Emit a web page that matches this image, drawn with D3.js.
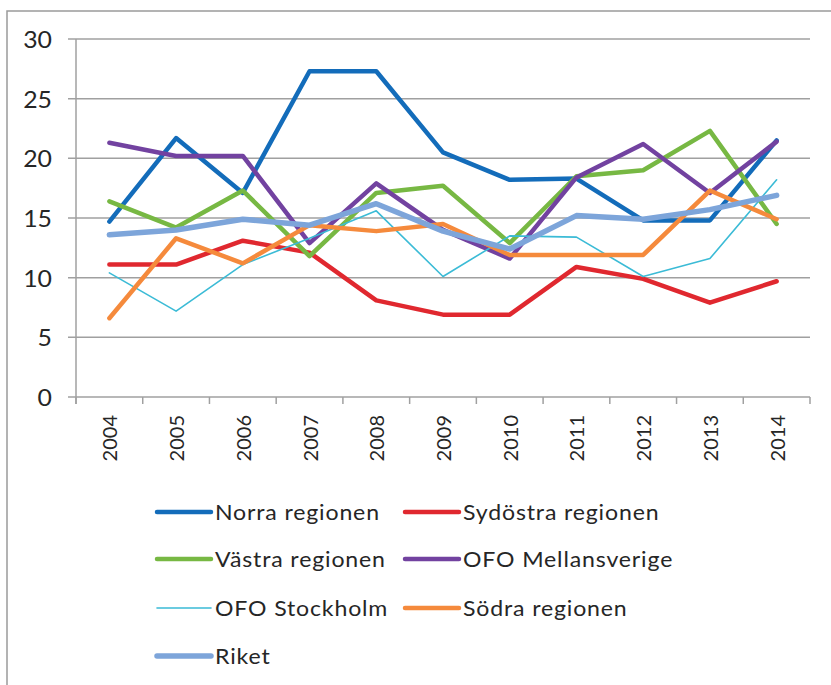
<!DOCTYPE html>
<html>
<head>
<meta charset="utf-8">
<script src="https://cdn.jsdelivr.net/npm/d3@7"></script>
<style>
  html, body { margin: 0; padding: 0; background: #ffffff; }
  svg { display: block; }
  text { font-family: Lato, "Open Sans", sans-serif; fill: #262626; }
</style>
</head>
<body>
<svg id="chart" width="831" height="685"></svg>
<script>
// ---- data ----
const years = ["2004","2005","2006","2007","2008","2009","2010","2011","2012","2013","2014"];
const yTicks = [0, 5, 10, 15, 20, 25, 30];

const seriesNames = ["Norra regionen","Sydöstra regionen","Västra regionen","OFO Mellansverige","OFO Stockholm","Södra regionen","Riket"];
const norra     = [14.7, 21.7, 17.1, 27.3, 27.3, 20.5, 18.2, 18.3, 14.8, 14.8, 21.5];
const sydostra  = [11.1, 11.1, 13.1, 12.1,  8.1,  6.9,  6.9, 10.9,  9.9,  7.9,  9.7];
const vastra    = [16.4, 14.2, 17.3, 11.8, 17.1, 17.7, 12.9, 18.5, 19.0, 22.3, 14.5];
const mellan    = [21.3, 20.2, 20.2, 12.9, 17.9, 14.0, 11.6, 18.4, 21.2, 17.1, 21.4];
const stockholm = [10.4,  7.2, 11.1, 13.3, 15.6, 10.1, 13.5, 13.4, 10.1, 11.6, 18.2];
const sodra     = [ 6.6, 13.3, 11.2, 14.4, 13.9, 14.5, 11.9, 11.9, 11.9, 17.3, 14.9];
const riket     = [13.6, 14.0, 14.9, 14.4, 16.2, 13.9, 12.4, 15.2, 14.9, 15.7, 16.9];

const seriesValues = [norra, sydostra, vastra, mellan, stockholm, sodra, riket];
const colors = ["#136CBA", "#E0282F", "#77B843", "#7242A0", "#3BBBD6", "#F58A3C", "#7DA5DA"];
const widths = [4.5, 4.5, 4.5, 4.5, 1.6, 4.5, 5.5];

// ---- layout ----
const svg = d3.select("#chart");
const plotLeft = 76, plotRight = 810, plotTop = 39, plotBottom = 397;

// outer frame
svg.append("rect")
  .attr("x", 7).attr("y", 11)
  .attr("width", 840).attr("height", 700)
  .attr("fill", "none").attr("stroke", "#9a9a9a").attr("stroke-width", 1.5);

const x = d3.scaleBand().domain(years).range([plotLeft, plotRight]).padding(0);
const y = d3.scaleLinear().domain([0, 30]).range([plotBottom, plotTop]);

const gridColor = "#a0a0a0";

// horizontal gridlines + left tick stubs
svg.append("g").selectAll("line").data(yTicks).join("line")
  .attr("x1", plotLeft - 8).attr("x2", plotRight)
  .attr("y1", d => y(d)).attr("y2", d => y(d))
  .attr("stroke", gridColor).attr("stroke-width", 1.5);

// y-axis line
svg.append("line")
  .attr("x1", plotLeft).attr("x2", plotLeft)
  .attr("y1", y(30)).attr("y2", y(0) + 7)
  .attr("stroke", gridColor).attr("stroke-width", 1.5);

// x tick marks at band boundaries
const bounds = years.map(d => x(d)).concat([plotRight]);
svg.append("g").selectAll("line").data(bounds).join("line")
  .attr("x1", d => d).attr("x2", d => d)
  .attr("y1", y(0)).attr("y2", y(0) + 7)
  .attr("stroke", gridColor).attr("stroke-width", 1.5);

// y labels
svg.append("g").selectAll("text").data(yTicks).join("text")
  .attr("transform", d => `translate(52,${y(d)}) scale(1.08,1)`)
  .attr("text-anchor", "end").attr("dominant-baseline", "central")
  .style("font-size", "23px")
  .text(d => d);

// x labels rotated
svg.append("g").selectAll("text").data(years).join("text")
  .attr("transform", d => `translate(${x(d) + x.bandwidth() / 2},415) rotate(-90)`)
  .attr("text-anchor", "end").attr("dominant-baseline", "central")
  .style("font-size", "20px")
  .text(d => d);

// lines
const line = d3.line()
  .x((d, i) => x(years[i]) + x.bandwidth() / 2)
  .y(d => y(d));

svg.append("g").selectAll("path").data(seriesValues).join("path")
  .attr("d", d => line(d))
  .attr("fill", "none")
  .attr("stroke", (d, i) => colors[i])
  .attr("stroke-width", (d, i) => widths[i])
  .attr("stroke-linejoin", "round")
  .attr("stroke-linecap", "round");

// legend
const legendRows = [512, 559, 608, 656];
const legendCols = [157, 405];
const legendItems = seriesNames.map((name, i) => ({
  name, color: colors[i], width: widths[i],
  lx: legendCols[i % 2], ly: legendRows[Math.floor(i / 2)]
}));
const lg = svg.append("g").selectAll("g").data(legendItems).join("g")
  .attr("transform", d => `translate(${d.lx},${d.ly})`);
lg.append("line")
  .attr("x1", 0).attr("x2", 54).attr("y1", 0).attr("y2", 0)
  .attr("stroke", d => d.color)
  .attr("stroke-width", d => d.width)
  .attr("stroke-linecap", "round");
lg.append("text")
  .attr("transform", "translate(58,0) scale(1.05,1)")
  .attr("dominant-baseline", "central")
  .style("font-size", "22px")
  .style("letter-spacing", "0.8px")
  .text(d => d.name);
</script>
</body>
</html>
